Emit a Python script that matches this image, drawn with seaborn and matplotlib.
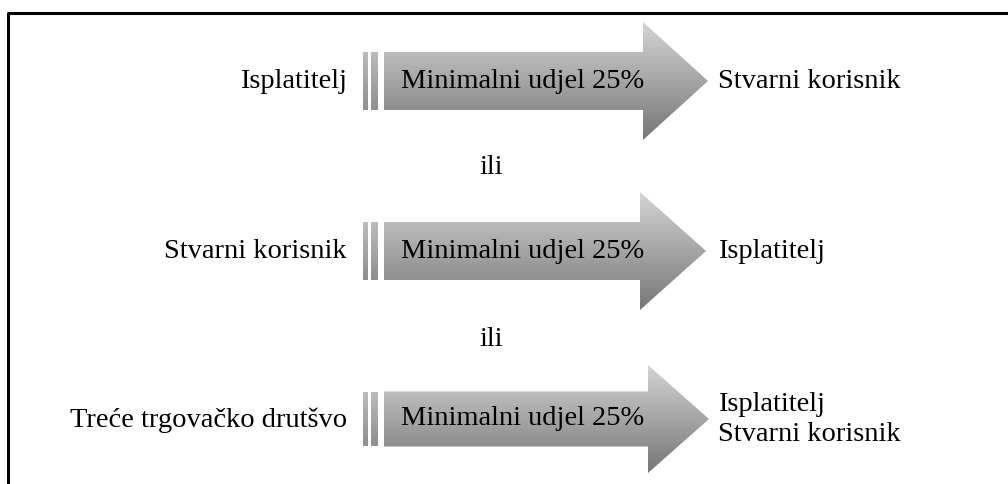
import numpy as np
import matplotlib.pyplot as plt
import seaborn as sns
from matplotlib.patches import Polygon, Rectangle

# podaci dijagrama
lijevo = ['Isplatitelj', 'Stvarni korisnik', 'Treće trgovačko drutšvo']
desno = [['Stvarni korisnik'], ['Isplatitelj'], ['Isplatitelj', 'Stvarni korisnik']]
udjel = 'Minimalni udjel 25%'
veznik = 'ili'

sns.set_theme(style='white')
plt.rcParams['font.family'] = ['Liberation Serif', 'DejaVu Serif']

fig = plt.figure(figsize=(10.08, 4.85), dpi=100)
ax = fig.add_axes([0, 0, 1, 1])
ax.set_xlim(0, 1008)
ax.set_ylim(485, 0)
ax.axis('off')

# okvir
ax.plot([8, 8, 1008], [490, 14, 14], color='black', lw=2.2, solid_capstyle='butt')

grad = np.linspace(0, 1, 256).reshape(-1, 1)
cmap = plt.matplotlib.colors.LinearSegmentedColormap.from_list('g', ['#d4d4d4', '#767676'])


def strelica(yc, body_h, head_h, xh, xt):
    # tijelo i glava strelice s gradijentom
    x0 = 384
    pts = [(x0, yc - body_h), (xh, yc - body_h), (xh, yc - head_h), (xt, yc),
           (xh, yc + head_h), (xh, yc + body_h), (x0, yc + body_h)]
    poly = Polygon(pts, closed=True, facecolor='none', edgecolor='none')
    ax.add_patch(poly)
    im = ax.imshow(grad, cmap=cmap, extent=(x0, xt, yc + head_h, yc - head_h),
                   aspect='auto', zorder=1)
    im.set_clip_path(poly)
    for xa, w in [(363, 4.5), (371, 7)]:
        r = Rectangle((xa, yc - body_h), w, 2 * body_h, facecolor='none', edgecolor='none')
        ax.add_patch(r)
        im2 = ax.imshow(grad, cmap=cmap, extent=(xa, xa + w, yc + head_h, yc - head_h),
                        aspect='auto', zorder=1)
        im2.set_clip_path(r)
    ax.text(523, yc - 1, udjel, ha='center', va='center', fontsize=20.5,
            color='black', zorder=3)


oblik = [(82, 29, 59, 643, 708), (252, 29, 59, 640, 706), (420, 27.5, 54, 648, 709)]
for i, (yc, bh, hh, xh, xt) in enumerate(oblik):
    strelica(yc, bh, hh, xh, xt)
    ax.text(347, yc, lijevo[i], ha='right', va='center', fontsize=20.5, color='black')
    n = len(desno[i])
    for j, t in enumerate(desno[i]):
        ax.text(718, yc + (j - (n - 1) / 2) * 30, t, ha='left', va='center',
                fontsize=20.5, color='black')

for y in [168, 340]:
    ax.text(491, y, veznik, ha='center', va='center', fontsize=20.5, color='black')

fig.savefig('out.png', dpi=100)
